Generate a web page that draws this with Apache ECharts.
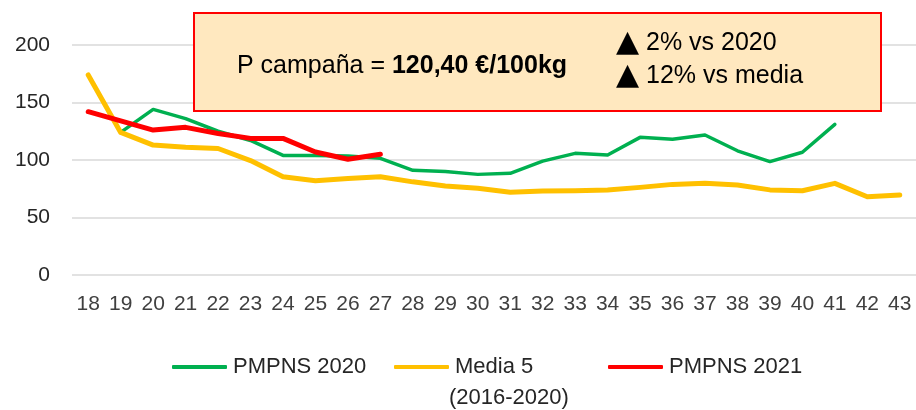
<!DOCTYPE html>
<html lang="es">
<head>
    <meta charset="UTF-8">
    <title>PMPNS</title>
    <script src="https://cdn.jsdelivr.net/npm/echarts@6/dist/echarts.min.js"></script>
    <style>
        html, body { margin: 0; padding: 0; background: #fff; }
        #main { width: 916px; height: 410px; }
    </style>
</head>
<body>
<div id="main"></div>
<script type="text/javascript">
    // semanas
    var semanas = ['18','19','20','21','22','23','24','25','26','27','28','29','30',
                   '31','32','33','34','35','36','37','38','39','40','41','42','43'];
    var pmpns2020 = [null, 124, 144, 136, 125, 117, 104, 104, 103.5, 101.5, 91, 90, 87.5,
                     88.4, 99, 105.8, 104.3, 119.7, 118, 121.7, 108, 98.6, 106.7, 131, null, null];
    var media5 = [174, 124, 113, 111, 110, 99.5, 85.5, 82, 84, 85.5, 81, 77.4, 75.5,
                  72, 73, 73.3, 74, 76.2, 78.8, 79.7, 78.3, 74, 73.3, 79.7, 68, 69.6];
    var pmpns2021 = [142, 134, 126, 128.4, 123, 118.8, 118.8, 107, 100.6, 105];
    var yMin = 0, yMax = 200, yStep = 50;

    var fuente = '"Liberation Sans", Arial, sans-serif';
    var myChart = echarts.init(document.getElementById('main'));

    function leyenda(nombre, x) {
        return {
            left: x, top: 351,
            data: [nombre],
            icon: 'roundRect',
            itemWidth: 55, itemHeight: 4,
            itemGap: 0,
            textStyle: { fontFamily: fuente, fontSize: 22, color: '#262626', padding: [0, 0, 0, 1] }
        };
    }

    var triRich = {
        t: { fontSize: 30, fontFamily: '"DejaVu Sans", sans-serif', fill: '#000' },
        n: { fontSize: 25, fontFamily: fuente, fill: '#000' }
    };

    myChart.setOption({
        animation: false,
        textStyle: { fontFamily: fuente },
        grid: { left: 72, top: 45, width: 848.6, height: 230 },
        xAxis: {
            type: 'category',
            data: semanas,
            boundaryGap: true,
            axisLine: { show: false },
            axisTick: { show: false },
            axisLabel: { interval: 0, margin: 19, fontSize: 21, color: '#404040', fontFamily: fuente }
        },
        yAxis: {
            type: 'value',
            min: yMin, max: yMax, interval: yStep,
            axisLabel: { margin: 22, fontSize: 21, color: '#262626', fontFamily: fuente },
            splitLine: { lineStyle: { color: '#D9D9D9', width: 1.5 } }
        },
        legend: [
            leyenda('PMPNS 2020', 167),
            leyenda('Media 5', 389),
            leyenda('PMPNS 2021', 603)
        ],
        series: [
            {
                name: 'PMPNS 2020', type: 'line', data: pmpns2020,
                showSymbol: false, symbol: 'none', color: '#00B050',
                lineStyle: { width: 3.5, color: '#00B050', cap: 'round', join: 'round' }
            },
            {
                name: 'Media 5', type: 'line', data: media5,
                showSymbol: false, symbol: 'none', color: '#FFC000',
                lineStyle: { width: 5, color: '#FFC000', cap: 'round', join: 'round' }
            },
            {
                name: 'PMPNS 2021', type: 'line', data: pmpns2021,
                showSymbol: false, symbol: 'none', color: '#FF0000',
                lineStyle: { width: 5, color: '#FF0000', cap: 'round', join: 'round' }
            }
        ],
        graphic: [
            {
                type: 'rect', left: 193, top: 12, z: 10,
                shape: { width: 687, height: 98 },
                style: { fill: '#FFE8BF', stroke: '#FF0000', lineWidth: 2 }
            },
            {
                type: 'text', left: 237, top: 54, z: 11,
                style: {
                    text: '{n|P campaña = }{b|120,40 €/100kg}',
                    rich: {
                        n: { fontSize: 25, fontFamily: fuente, fill: '#000' },
                        b: { fontSize: 25, fontFamily: fuente, fontWeight: 'bold', fill: '#000' }
                    }
                }
            },
            {
                type: 'text', left: 616, top: 28, z: 11,
                style: { text: '{t|▲}{n| 2% vs 2020}', rich: triRich, verticalAlign: 'top' }
            },
            {
                type: 'text', left: 616, top: 61, z: 11,
                style: { text: '{t|▲}{n| 12% vs media}', rich: triRich, verticalAlign: 'top' }
            },
            {
                type: 'text', left: 449, top: 387,
                style: { text: '(2016-2020)', fontSize: 22, fontFamily: fuente, fill: '#262626' }
            }
        ]
    });
</script>
</body>
</html>
